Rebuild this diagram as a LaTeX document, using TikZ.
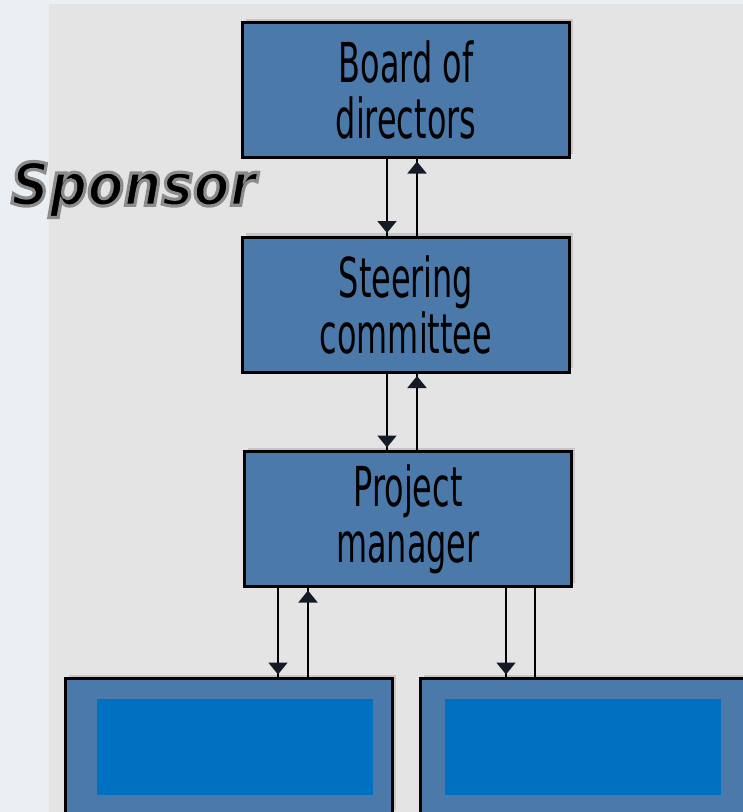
\documentclass[tikz,border=0pt]{standalone}
\usepackage{fontspec}
\newfontfamily\boxfont[FakeStretch=0.58]{DejaVu Sans}
\newfontfamily\sponsorfont[FakeStretch=0.9]{DejaVu Sans}
\usetikzlibrary{arrows.meta,decorations.markings}
\definecolor{outerbg}{HTML}{EAEFF3}
\definecolor{panel}{HTML}{E4E4E4}
\definecolor{boxblue}{HTML}{4A79AA}
\definecolor{innerblue}{HTML}{0070C0}
\definecolor{shade}{HTML}{C6C6C6}
\definecolor{tipcol}{HTML}{151B26}
\newcommand{\glowtext}[1]{\special{pdf:literal direct 2 Tr 3.2 w 0.55 0.55 0.55 RG}#1\special{pdf:literal direct 0 Tr 0 0 0 RG}}
\tikzset{
  orgbox/.style={draw=black, line width=3pt, fill=boxblue, rectangle, inner sep=0pt, outer sep=0pt,
    minimum width=327pt, minimum height=135pt, align=center,
    font=\boxfont\fontsize{55}{56}\selectfont,
    preaction={draw=none, fill=shade, transform canvas={shift={(3pt,4pt)}}}},
  innerbox/.style={draw=none, fill=innerblue, rectangle, inner sep=0pt, outer sep=0pt,
    minimum width=276pt, minimum height=96pt},
  link/.style={draw=black, line width=2pt},
  arrowed/.style={link, postaction={decorate, decoration={markings,
    mark=at position -4pt with {\arrow[tipcol]{Triangle[width=19pt,length=12pt]}}}}},
}
\begin{document}
\begin{tikzpicture}[x=1pt,y=-1pt]
\useasboundingbox (0,0) rectangle (743,812);
\fill[outerbg] (0,0) rectangle (743,812);
\fill[panel] (49,4) rectangle (743,812);
% boxes
\node[orgbox] (board) at (406,90) {Board of\\directors};
\node[orgbox] (steer) at (406,304.5) {Steering\\committee};
\node[orgbox] (pm) at (408,519) {Project\\manager};
\node[orgbox, text height=0pt] (left) at (229,746) {};
\node[orgbox, text height=0pt] (right) at (584,746) {};
\node[innerbox] (leftin) at (235,747) {};
\node[innerbox] (rightin) at (583,747) {};
% connectors
\draw[arrowed] ([xshift=-19pt]board.south) -- ([xshift=-19pt]steer.north);
\draw[arrowed] ([xshift=11pt]steer.north) -- ([xshift=11pt]board.south);
\draw[arrowed] ([xshift=-19pt]steer.south) -- ([xshift=-21pt]pm.north);
\draw[arrowed] ([xshift=9pt]pm.north) -- ([xshift=11pt]steer.south);
\draw[arrowed] ([xshift=-130pt]pm.south) -- ([xshift=49pt]left.north);
\draw[arrowed] ([xshift=79pt]left.north) -- ([xshift=-100pt]pm.south);
\draw[arrowed] ([xshift=98pt]pm.south) -- ([xshift=-78pt]right.north);
\draw[link] ([xshift=127pt]pm.south) -- ([xshift=-49pt]right.north);
% Sponsor label
\node[text=black, font=\sponsorfont\bfseries\itshape\fontsize{59}{59}\selectfont] (sponsor) at (133.5,189.5) {\glowtext{Sponsor}};
\end{tikzpicture}
\end{document}
